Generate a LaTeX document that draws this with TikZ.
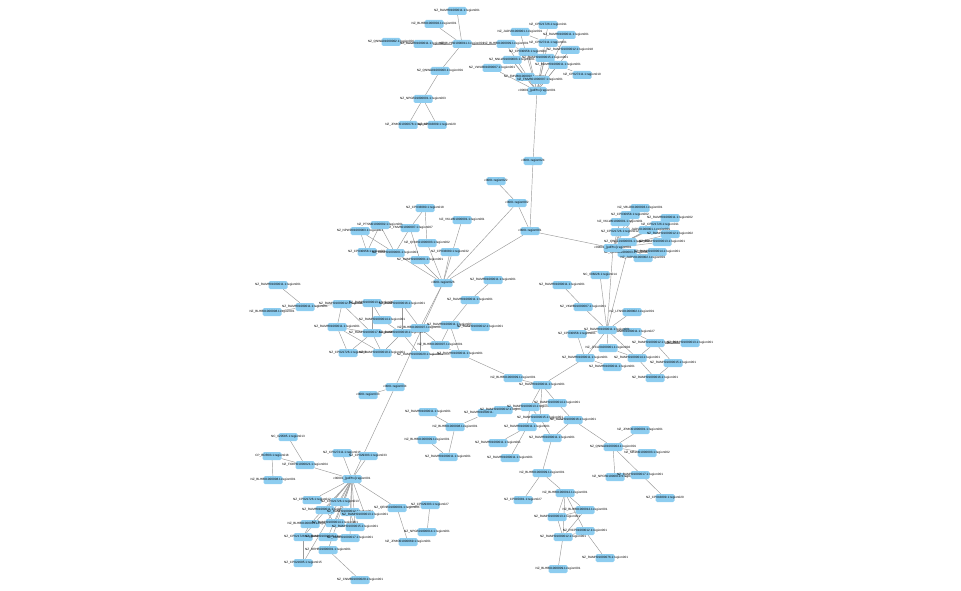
\documentclass[tikz,border=0pt]{standalone}
\usepackage{fontspec}
\setmainfont{Liberation Sans}
\usetikzlibrary{backgrounds}
\definecolor{nodeblue}{HTML}{8DCDF0}
\definecolor{edgegray}{HTML}{9A9A9A}
\tikzset{
  nd/.style={rectangle, rounded corners=1.5pt, fill=nodeblue, minimum width=19pt, minimum height=8pt, inner sep=0pt, font=\fontsize{3.1}{3.5}\selectfont},
  ed/.style={draw=edgegray, line width=0.45pt}
}
\newcommand\Nd[3]{\node[nd] (#1) at (#2) {\makebox[0pt]{#3}};}
\begin{document}
\begin{tikzpicture}[x=1pt,y=-1pt]
\useasboundingbox (0,0) rectangle (961,591);
% top-left cluster
\Nd{t1}{457,11}{NZ\_RAMH01000011.1:region001}
\Nd{t2}{434,24}{NZ\_BLHB01000002.1:region001}
\Nd{t3}{391,42}{NZ\_QNWA01000002.1:region001}
\Nd{t4}{423,44}{NZ\_RAMH01000011.1:region001}
\Nd{t5}{462,44}{NZ\_BLHB01000011.1:region001}
\Nd{t6}{440,71}{NZ\_QNWA01000003.1:region001}
\Nd{t7}{423,99}{NZ\_NPGB01000001.1:region003}
\Nd{t8}{408,125}{NZ\_JPMO01000078.1:region001}
\Nd{t9}{437,125}{NZ\_CP016809.1:region020}
% top-right cluster
\Nd{u1}{548,25}{NZ\_CP021726.1:region011}
\Nd{u2}{520,32}{NZ\_JADV01000001.1:region001}
\Nd{u3}{566,35}{NZ\_RAMH01000011.1:region001}
\Nd{u4}{506,44}{NZ\_BLHB01000009.1:region001}
\Nd{u5}{548,43}{NZ\_CP027211.1:region001}
\Nd{u6}{570,50}{NZ\_RAMH01000012.1:region018}
\Nd{u7}{528,52}{NZ\_CP030958.1:region001}
\Nd{u8}{545,58}{NZ\_RAMH01000015.1:region001}
\Nd{u9}{512,60}{NZ\_NNLW01000003.1:region001}
\Nd{u10}{558,65}{NZ\_RAMH01000011.1:region001}
\Nd{u11}{492,68}{NZ\_VWUB01000007.1:region001}
\Nd{u12}{525,77}{NZ\_FMVB01000001.1:region1}
\Nd{u13}{540,80}{NZ\_FMVB01000007.1:region001}
\Nd{u14}{582,75}{NZ\_CP027211.1:region010}
\Nd{u15}{537,91}{c00001\_[pdPhx]:region001}
% middle chain
\Nd{m1}{533,161}{c0001:region024}
\Nd{m2}{496,181}{c0001:region022}
\Nd{m3}{517,203}{c0001:region002}
\Nd{h}{530,231}{c0001:region001}
% mid-left cluster
\Nd{l1}{425,208}{NZ\_CP033080.1:region018}
\Nd{l2}{462,220}{NZ\_VKLW01000001.1:region001}
\Nd{l3}{410,228}{NZ\_FMVB01000007.1:region007}
\Nd{l4}{360,231}{NZ\_NPWD01000003.1:region001}
\Nd{l5}{380,225}{NZ\_PTSM01000002.1:region001}
\Nd{l6}{427,243}{NZ\_QFNK01000003.1:region002}
\Nd{l7}{367,252}{NZ\_CP030958.1:region001}
\Nd{l8}{395,253}{NZ\_RAMH01000001.1:region001}
\Nd{l9}{420,260}{NZ\_RAMH01000001.1:region001}
\Nd{l10}{450,252}{NZ\_CP033080.1:region032}
\Nd{c0}{443,283}{c0001:region026}
% left-middle cluster
\Nd{p1}{278,285}{NZ\_RAMH01000011.1:region001}
\Nd{p2}{272,312}{NZ\_BLHB01000008.1:region001}
\Nd{p3}{305,307}{NZ\_RAMH01000011.1:region001}
\Nd{p4}{342,304}{NZ\_RAMH01000012.1:region001}
\Nd{p5}{372,303}{NZ\_RAMH01000013.1:region001}
\Nd{p6}{402,304}{NZ\_RAMH01000016.1:region001}
\Nd{p7}{382,320}{NZ\_RAMH01000014.1:region001}
\Nd{p8}{337,327}{NZ\_RAMH01000011.1:region001}
\Nd{p9}{372,333}{NZ\_RAMH01000017.1:region001}
\Nd{p10}{402,333}{NZ\_RAMH01000018.1:region001}
\Nd{p11}{420,328}{NZ\_BLHB01000007.1:region001}
\Nd{p12}{348,353}{NZ\_CP021726.1:region001}
\Nd{p13}{382,353}{NZ\_RAMH01000019.1:region001}
\Nd{p14}{420,355}{NZ\_RAMH01000020.1:region001}
\Nd{q1}{450,325}{NZ\_RAMH01000011.1:region001}
\Nd{q2}{480,327}{NZ\_RAMH01000012.1:region001}
\Nd{q3}{470,300}{NZ\_RAMH01000011.1:region001}
\Nd{q4}{493,280}{NZ\_RAMH01000011.1:region001}
\Nd{q5}{440,345}{NZ\_BLHB01000007.1:region001}
\Nd{q6}{460,354}{NZ\_RAMH01000011.1:region001}
% right cluster
\Nd{r1}{640,208}{NZ\_VBLD01000003.1:region001}
\Nd{r2}{630,215}{NZ\_CP030958.1:region002}
\Nd{r3}{670,218}{NZ\_RAMH01000011.1:region002}
\Nd{r4}{620,222}{NZ\_VKLW01000001.1:region001}
\Nd{r5}{660,225}{NZ\_CP021726.1:region011}
\Nd{r6}{648,230}{NZ\_JADV01000001.1:region001}
\Nd{r7}{620,232}{NZ\_CP021726.1:region012}
\Nd{r8}{670,234}{NZ\_RAMH01000012.1:region002}
\Nd{r9}{627,242}{NZ\_QWLL01000001.1:region001}
\Nd{r10}{662,242}{NZ\_RAMH01000013.1:region001}
\Nd{r11}{627,253}{NZ\_QMUB01000003.1:region001}
\Nd{r12}{657,252}{NZ\_RAMH01000014.1:region001}
\Nd{r13}{643,258}{NZ\_JADV01000002.1:region001}
\Nd{r0}{613,248}{c00001\_[pdPhx]:region001}
% right-lower cluster
\Nd{s1}{600,275}{NC\_008228.1:region014}
\Nd{s2}{562,285}{NZ\_RAMH01000011.1:region001}
\Nd{s3}{583,307}{NZ\_VKWB01000007.1:region001}
\Nd{s4}{632,312}{NZ\_LFNS01000002.1:region001}
\Nd{s6}{577,334}{NZ\_CP030958.1:region001}
\Nd{s7}{632,332}{NZ\_RAMH01000011.1:region027}
\Nd{s5}{607,330}{NZ\_RAMH01000011.1:region001}
\Nd{s8}{655,343}{NZ\_RAMH01000012.1:region001}
\Nd{s9}{690,343}{NZ\_RAMH01000013.1:region001}
\Nd{s10}{608,348}{NZ\_JFCA01000001.1:region002}
\Nd{s11}{585,358}{NZ\_RAMH01000011.1:region001}
\Nd{s12}{637,358}{NZ\_RAMH01000014.1:region001}
\Nd{s13}{612,367}{NZ\_RAMH01000011.1:region001}
\Nd{s14}{673,363}{NZ\_RAMH01000015.1:region001}
\Nd{s15}{655,378}{NZ\_RAMH01000016.1:region001}
% lower-middle cluster
\Nd{v0}{395,387}{c0001:region034}
\Nd{v00}{368,395}{c0001:region033}
\Nd{v1}{513,378}{NZ\_BLHB01000009.1:region001}
\Nd{v2}{542,385}{NZ\_RAMH01000011.1:region001}
\Nd{v3}{428,412}{NZ\_RAMH01000011.1:region001}
\Nd{v4}{455,427}{NZ\_BLHB01000008.1:region001}
\Nd{v5}{487,413}{NZ\_RAMH01000011.1:region001}
\Nd{v6}{503,410}{NZ\_RAMH01000012.1:region001}
\Nd{v7}{530,407}{NZ\_RAMH01000013.1:region001}
\Nd{v8}{557,403}{NZ\_RAMH01000014.1:region001}
\Nd{v9}{540,418}{NZ\_RAMH01000015.1:region001}
\Nd{v10}{573,420}{NZ\_RAMH01000016.1:region001}
\Nd{v11}{527,427}{NZ\_RAMH01000011.1:region001}
\Nd{v12}{552,438}{NZ\_RAMH01000011.1:region001}
\Nd{v13}{427,440}{NZ\_BLHB01000009.1:region001}
\Nd{v14}{498,443}{NZ\_RAMH01000011.1:region001}
\Nd{v15}{448,457}{NZ\_RAMH01000011.1:region001}
\Nd{v16}{510,458}{NZ\_RAMH01000011.1:region001}
% bottom-middle cluster
\Nd{w1}{542,473}{NZ\_BLHB01000009.1:region001}
\Nd{w2}{523,500}{NZ\_CP015081.1:region027}
\Nd{w3}{565,493}{NZ\_BLHB01000012.1:region001}
\Nd{w4}{557,517}{NZ\_RAMH01000013.1:region001}
\Nd{w5}{585,510}{NZ\_BLHB01000012.1:region001}
\Nd{w6}{585,531}{NZ\_RICP01000012.1:region001}
\Nd{w7}{563,537}{NZ\_RAMH01000012.1:region001}
\Nd{w8}{605,558}{NZ\_RAMH01000076.1:region001}
\Nd{w9}{558,569}{NZ\_BLHB01000009.1:region001}
% bottom-right cluster
\Nd{x1}{613,447}{NZ\_QNWA01000004.1:region001}
\Nd{x2}{640,430}{NZ\_JPMO01000001.1:region001}
\Nd{x3}{647,453}{NZ\_MBLN01000003.1:region002}
\Nd{x4}{615,477}{NZ\_NPCB01000019.1:region001}
\Nd{x5}{640,475}{NZ\_RAMH01000017.1:region001}
\Nd{x6}{665,498}{NZ\_CP016809.1:region020}
% bottom-left cluster
\Nd{y1}{288,437}{NC\_020585.1:region013}
\Nd{y2}{272,456}{CP\_BOR03.1:region018}
\Nd{y3}{305,465}{NZ\_FOKH01000021.1:region004}
\Nd{y4}{273,480}{NZ\_BLHB01000008.1:region001}
\Nd{y5}{342,453}{NZ\_CP027211.1:region016}
\Nd{y6}{368,456}{NZ\_CP029393.1:region033}
\Nd{y7}{397,508}{NZ\_QENB01000001.1:region001}
\Nd{y8}{430,505}{NZ\_CP029393.1:region027}
\Nd{y9}{427,532}{NZ\_NPGB01000014.1:region001}
\Nd{y10}{408,542}{NZ\_JPMO01000069.1:region001}
\Nd{z1}{312,500}{NZ\_CP021726.1:region012}
\Nd{z2}{340,502}{NZ\_CP021726.1:region013}
\Nd{z3}{325,510}{NZ\_RAMH01000011.1:region001}
\Nd{z4}{350,512}{NZ\_RAMH01000012.1:region001}
\Nd{z5}{365,515}{NZ\_RAMH01000013.1:region001}
\Nd{z6}{310,524}{NZ\_BLHB01000001.1:region001}
\Nd{z7}{335,523}{NZ\_RAMH01000014.1:region001}
\Nd{z8}{355,527}{NZ\_RAMH01000015.1:region001}
\Nd{z9}{303,537}{NZ\_CP021726.1:region011}
\Nd{z10}{328,537}{NZ\_RAMH01000016.1:region001}
\Nd{z11}{350,538}{NZ\_RAMH01000017.1:region001}
\Nd{z12}{328,550}{NZ\_DRHB01000001.1:region001}
\Nd{z13}{303,563}{NZ\_CP021695.1:region015}
\Nd{z14}{360,580}{NZ\_CNMB01000029.1:region001}
\Nd{y0}{352,479}{c00001\_[pdPhx]:region001}
\begin{scope}[on background layer]
\foreach \a/\b in {t1/t5,t2/t5,t4/t5,t3/t4,t5/t6,t6/t7,t7/t8,t7/t9,t5/u4,
 u15/u1,u15/u2,u15/u3,u15/u4,u15/u5,u15/u6,u15/u7,u15/u8,u15/u9,u15/u10,u15/u11,u15/u12,u15/u13,u10/u14,
 u2/u5,u4/u7,u7/u8,u9/u12,u5/u6,
 u15/m1,m1/h,m2/m3,m3/h,h/r0,h/c0,m3/c0,
 l1/l3,l1/l6,l2/c0,l4/l7,l4/l8,l5/l7,l5/l8,l3/l8,l3/l9,l6/c0,l9/c0,l8/c0,l10/c0,
 p1/p3,p2/p3,p3/p4,p4/p5,p5/p6,p4/p8,p4/p9,p5/p7,p5/p9,p6/p10,p6/p11,p7/p10,p8/p9,p8/p12,p8/p13,p9/p12,p9/p13,p10/p13,p10/p14,p11/p14,
 p11/q1,p11/q5,q1/q2,q1/q3,q3/q4,q1/q5,q5/q6,p11/c0,q1/q6,p14/q6,q6/v1,
 r0/r1,r0/r2,r0/r3,r0/r4,r0/r5,r0/r6,r0/r7,r0/r8,r0/r9,r0/r10,r0/r11,r0/r12,r0/r13,
 r0/s5,r11/s5,s1/s5,s2/s3,s3/s5,s4/s5,s5/s6,s5/s7,s5/s10,s5/s11,s5/s12,s6/s11,s7/s8,s8/s9,s8/s12,s8/s14,s10/s12,s12/s15,s14/s15,s11/s13,s11/v2,
 v0/c0,v0/y0,v0/v00,
 v3/v4,v4/v5,v4/v15,v13/v15,v5/v6,v1/v2,v2/v7,v2/v8,v2/v9,v7/v8,v7/v9,v8/v10,v9/v10,v7/v11,v9/v11,v9/v12,v10/v12,v11/v14,v11/v16,v12/w1,v10/x1,v6/v7,
 w1/w2,w1/w3,w3/w4,w3/w5,w3/w6,w3/w7,w4/w5,w4/w7,w5/w7,w6/w7,w6/w8,w7/w9,
 x1/x2,x1/x3,x1/x4,x1/x6,x4/x5,
 y1/y3,y2/y3,y2/y4,y3/y0,y5/y0,y6/y0,y0/y7,y7/y8,y7/y10,y8/y9,
 y0/z1,y0/z2,y0/z3,y0/z4,y0/z5,y0/z6,y0/z7,y0/z8,y0/z9,y0/z10,y0/z11,y0/z12,y0/z13,z12/z14,z9/z13,z6/z9,z3/z7,z4/z8}
 \draw[ed] (\a) -- (\b);
\end{scope}
\end{tikzpicture}
\end{document}
